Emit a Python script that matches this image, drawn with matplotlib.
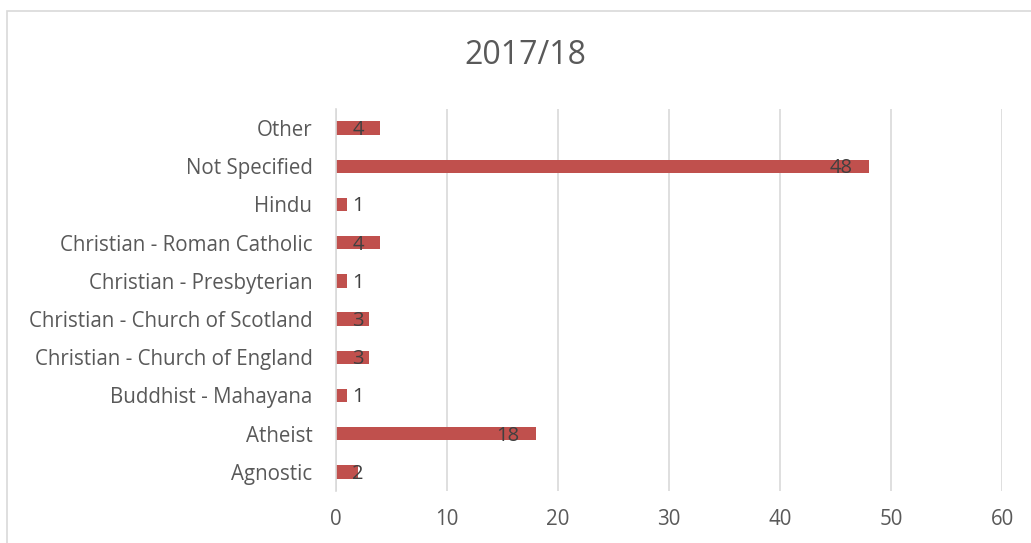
import matplotlib
matplotlib.use("Agg")
import matplotlib.pyplot as plt
from matplotlib.patches import Rectangle

categories = ["Agnostic", "Atheist", "Buddhist - Mahayana", "Christian - Church of England",
              "Christian - Church of Scotland", "Christian - Presbyterian",
              "Christian - Roman Catholic", "Hindu", "Not Specified", "Other"]
values = [2, 18, 1, 3, 3, 1, 4, 1, 48, 4]
xticks = [0, 10, 20, 30, 40, 50, 60]
title = "2017/18"

plt.rcParams['font.family'] = ['Open Sans', 'DejaVu Sans']

W, H = 1031, 543
fig = plt.figure(figsize=(W/100, H/100), dpi=100)
fig.patch.set_facecolor("white")
fig.patches.append(Rectangle((7/W, -0.1), 1.2, 1 - 11/H + 0.1, transform=fig.transFigure,
                             fill=False, edgecolor="#D9D9D9", linewidth=1.2, zorder=0))

ax = fig.add_axes([336/W, 1 - 491/H, (1002-336)/W, (491-109)/H])
ypos = list(range(len(categories)))
ax.barh(ypos, values, height=0.35, color="#C0504D", zorder=2)
ax.set_ylim(-0.5, len(categories) - 0.5)
ax.set_xlim(0, 60)
ax.set_xticks(xticks)
ax.set_yticks(ypos)
ax.set_yticklabels(categories)
ax.tick_params(axis='both', length=0, colors="#595959", labelsize=14.8)
ax.tick_params(axis='y', pad=17)
ax.tick_params(axis='x', pad=13)
ax.grid(axis='x', color="#D9D9D9", linewidth=1.2, zorder=0)
for s in ["top", "right", "bottom"]:
    ax.spines[s].set_visible(False)
ax.spines["left"].set_color("#D9D9D9")
ax.spines["left"].set_linewidth(1.2)
ax.set_axisbelow(True)

for y, v in zip(ypos, values):
    xc = max(v - 2.5, 2.0)
    ax.text(xc, y - 0.05, str(v), ha="center", va="center", color="#404040", fontsize=14.5, zorder=3)

fig.text(525/W, 1 - 55/H, title, ha="center", va="center", fontsize=23, color="#595959")

fig.savefig("out.png", dpi=100, facecolor="white")
